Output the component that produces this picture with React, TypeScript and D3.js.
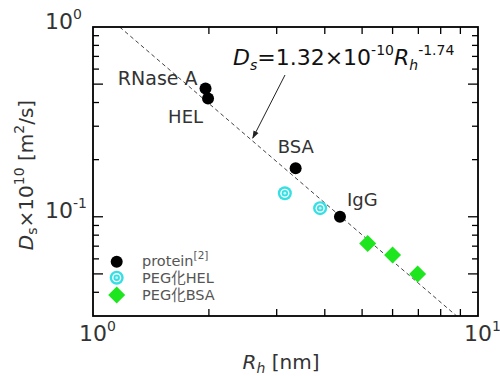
import React from 'react';
import * as d3 from 'd3';

// Hydrodynamic radius R_h [nm] and diffusion coefficient D_s x 1e10 [m^2/s]
const proteinNames = ['RNase A', 'HEL', 'BSA', 'IgG'];
const proteinR = [1.96, 1.99, 3.36, 4.38];
const proteinD = [0.474, 0.42, 0.18, 0.1];

const pegHelR = [3.15, 3.89];
const pegHelD = [0.133, 0.111];

const pegBsaR = [5.17, 6.0, 6.97];
const pegBsaD = [0.0724, 0.0628, 0.0499];

// Power-law fit D_s = 1.32e-10 * R_h^-1.74
const fitCoef = 1.32;
const fitExp = -1.74;

const xMinorTicks = [2, 3, 4, 5, 6, 7, 8, 9];
const yTicks = [0.9, 0.8, 0.7, 0.6, 0.5, 0.4, 0.3, 0.2, 0.1, 0.09, 0.08, 0.07, 0.06, 0.05, 0.04];
const yLongTicks = [0.5, 0.1, 0.05];
const xTickLabels = [
  { v: 1, exp: '0' },
  { v: 10, exp: '1' },
];
const yTickLabels = [
  { v: 1, exp: '0' },
  { v: 0.1, exp: '-1' },
];

const legendItems = ['protein', 'PEG化HEL', 'PEG化BSA'];

const FONT = '"DejaVu Sans", "Noto Sans CJK JP", sans-serif';
const TEXT = '#333';
const CYAN = '#36dfe3';
const GREEN = '#1ee61e';

const left = 93;
const right = 478;
const top = 27;
const bottom = 316;

const labelPlacement: Record<string, { dx: number; dy: number; anchor: string; size: number }> = {
  'RNase A': { dx: -8, dy: -3.5, anchor: 'end', size: 19 },
  HEL: { dx: -5, dy: 24.5, anchor: 'end', size: 18 },
  BSA: { dx: -18, dy: -15, anchor: 'start', size: 18 },
  IgG: { dx: 7, dy: -11, anchor: 'start', size: 18 },
};

function Target({ cx, cy }: { cx: number; cy: number }) {
  return (
    <g>
      <circle cx={cx} cy={cy} r={7} fill={CYAN} />
      <circle cx={cx} cy={cy} r={4.6} fill="#ffffff" />
      <circle cx={cx} cy={cy} r={3.2} fill={CYAN} />
      <circle cx={cx} cy={cy} r={1.4} fill="#bff5f7" />
    </g>
  );
}

function Diamond({ cx, cy }: { cx: number; cy: number }) {
  const s = 8.5;
  return <path d={`M${cx},${cy - s}L${cx + s},${cy}L${cx},${cy + s}L${cx - s},${cy}Z`} fill={GREEN} />;
}

export default function App() {
  const x = d3.scaleLog().domain([1, 10]).range([left, right]);
  const y = d3.scaleLog().domain([0.03, 1]).range([bottom, top]);

  // fit line between where it enters and leaves the plotting window
  const [yLo, yHi] = y.domain();
  const rAtTop = Math.pow(yHi / fitCoef, 1 / fitExp);
  const rAtBottom = Math.pow(yLo / fitCoef, 1 / fitExp);
  const fitPts: [number, number][] = [rAtTop, rAtBottom].map((r) => [r, fitCoef * Math.pow(r, fitExp)]);
  const fitLine = d3
    .line<[number, number]>()
    .x((d) => x(d[0]))
    .y((d) => y(d[1]));

  // arrow pointing at the fit line
  const arrowR = 2.6;
  const tipX = x(arrowR);
  const tipY = y(fitCoef * Math.pow(arrowR, fitExp)) - 3;

  return (
    <svg
      width={500}
      height={376}
      style={{ position: 'absolute', left: 0, top: 0, background: '#fff' }}
      fontFamily={FONT}
    >
      <defs>
        <marker id="arrowHead" viewBox="0 0 10 10" refX="9" refY="5" markerWidth="8" markerHeight="8" orient="auto-start-reverse" markerUnits="userSpaceOnUse">
          <path d="M0,1.5L10,5L0,8.5Z" fill="#222" />
        </marker>
        <clipPath id="plotClip">
          <rect x={left} y={top} width={right - left} height={bottom - top} />
        </clipPath>
      </defs>

      {/* ticks, drawn inward on all four sides */}
      <g stroke="#000" strokeWidth={1.3}>
        {xMinorTicks.map((t) => (
          <g key={`xt${t}`}>
            <line x1={x(t)} x2={x(t)} y1={bottom} y2={bottom - 7} />
            <line x1={x(t)} x2={x(t)} y1={top} y2={top + 7} />
          </g>
        ))}
        {yTicks.map((t) => {
          const len = yLongTicks.includes(t) ? 10 : 6;
          return (
            <g key={`yt${t}`}>
              <line x1={left} x2={left + len} y1={y(t)} y2={y(t)} />
              <line x1={right} x2={right - len} y1={y(t)} y2={y(t)} />
            </g>
          );
        })}
      </g>

      {/* fit line */}
      <path
        d={fitLine(fitPts) || ''}
        stroke="#444"
        strokeWidth={1}
        strokeDasharray="4,3"
        fill="none"
        clipPath="url(#plotClip)"
      />

      {/* protein */}
      {proteinR.map((r, i) => (
        <circle key={`p${i}`} cx={x(r)} cy={y(proteinD[i])} r={6} fill="#000" />
      ))}
      {/* PEG-modified HEL */}
      {pegHelR.map((r, i) => (
        <Target key={`h${i}`} cx={x(r)} cy={y(pegHelD[i])} />
      ))}
      {/* PEG-modified BSA */}
      {pegBsaR.map((r, i) => (
        <Diamond key={`b${i}`} cx={x(r)} cy={y(pegBsaD[i])} />
      ))}

      {/* point labels */}
      <g fill={TEXT}>
        {proteinNames.map((n, i) => {
          const p = labelPlacement[n];
          return (
            <text key={n} x={x(proteinR[i]) + p.dx} y={y(proteinD[i]) + p.dy} textAnchor={p.anchor} fontSize={p.size}>
              {n}
            </text>
          );
        })}
      </g>

      {/* fit equation */}
      <text x={233} y={65} fontSize={22} fill="#111">
        <tspan fontStyle="italic">D</tspan>
        <tspan fontStyle="italic" fontSize={14} dy={5}>s</tspan>
        <tspan dy={-5}>=1.32×10</tspan>
        <tspan fontSize={14} dy={-10}>-10</tspan>
        <tspan fontStyle="italic" dy={10}>R</tspan>
        <tspan fontStyle="italic" fontSize={14} dy={5}>h</tspan>
        <tspan fontSize={14} dy={-15}>-1.74</tspan>
      </text>
      <line x1={285} y1={75} x2={tipX} y2={tipY} stroke="#222" strokeWidth={1} markerEnd="url(#arrowHead)" />

      {/* frame */}
      <rect x={left} y={top} width={right - left} height={bottom - top} fill="none" stroke="#000" strokeWidth={1.8} />

      {/* tick labels */}
      <g fontSize={22} fill={TEXT}>
        {xTickLabels.map((t) => (
          <text key={`xl${t.v}`} x={x(t.v) - 14} y={341}>
            10<tspan fontSize={14} dy={-10}>{t.exp}</tspan>
          </text>
        ))}
        {yTickLabels.map((t) => (
          <text key={`yl${t.v}`} x={45} y={y(t.v) + 1.5}>
            10<tspan fontSize={14} dy={-10}>{t.exp}</tspan>
          </text>
        ))}
      </g>

      {/* axis titles */}
      <text x={281} y={369} fontSize={20} fill={TEXT} textAnchor="middle">
        <tspan fontStyle="italic">R</tspan>
        <tspan fontStyle="italic" fontSize={14} dy={4}>h</tspan>
        <tspan dy={-4}> [nm]</tspan>
      </text>
      <text transform="translate(33,175) rotate(-90)" fontSize={20} fill={TEXT} textAnchor="middle">
        <tspan fontStyle="italic">D</tspan>
        <tspan fontSize={14} dy={4}>s</tspan>
        <tspan dy={-4}>×10</tspan>
        <tspan fontSize={14} dy={-9}>10</tspan>
        <tspan dy={9}>  [m</tspan>
        <tspan fontSize={14} dy={-9}>2</tspan>
        <tspan dy={9}>/s]</tspan>
      </text>

      {/* legend */}
      <g>
        <circle cx={116.7} cy={261.7} r={6} fill="#000" />
        <Target cx={116.7} cy={277.7} />
        <Diamond cx={116.7} cy={295} />
        <g fontSize={14.5} fill="#555">
          <text x={142} y={266}>
            {legendItems[0]}
            <tspan fontSize={10.5} dy={-7}>[2]</tspan>
          </text>
          <text x={142} y={283}>{legendItems[1]}</text>
          <text x={142} y={300}>{legendItems[2]}</text>
        </g>
      </g>
    </svg>
  );
}
